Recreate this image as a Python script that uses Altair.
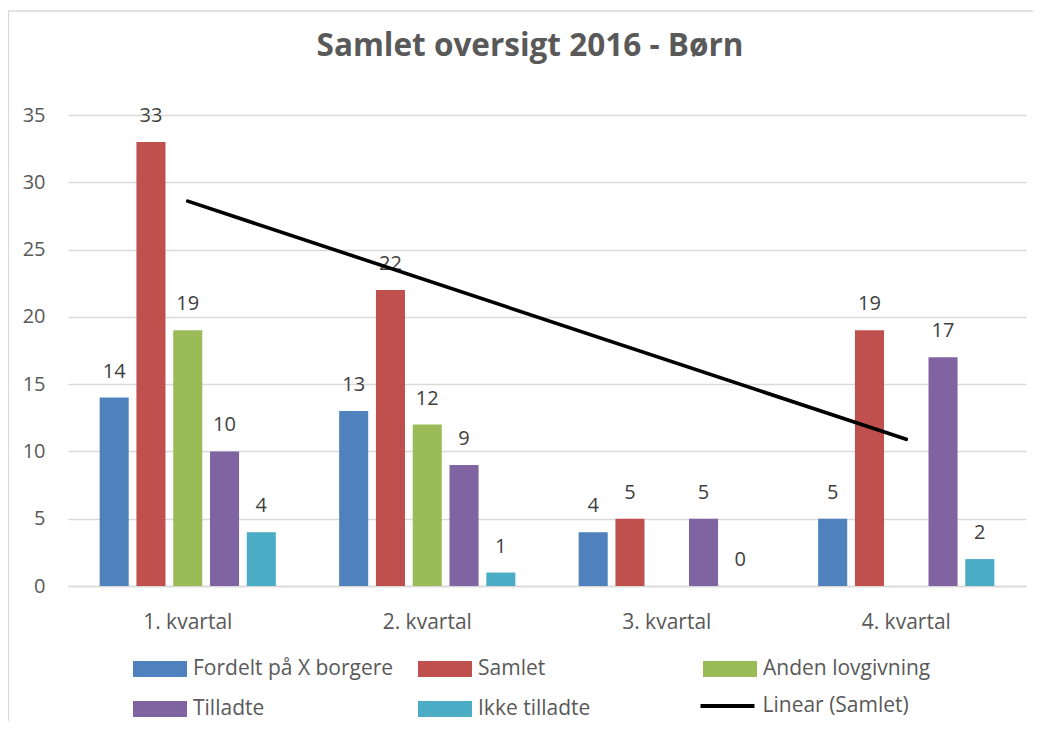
import altair as alt
import pandas as pd

FONT = "Open Sans"

quarters = ["1. kvartal", "2. kvartal", "3. kvartal", "4. kvartal"]
quarter_index = [1, 2, 3, 4]
series_names = ["Fordelt på X borgere", "Samlet", "Anden lovgivning", "Tilladte", "Ikke tilladte"]
fordelt = [14, 13, 4, 5]
samlet = [33, 22, 5, 19]
anden = [19, 12, None, None]
tilladte = [10, 9, 5, 17]
ikke_tilladte = [4, 1, 0, 2]
series_colors = ["#4F81BD", "#C0504D", "#9BBB59", "#8064A2", "#4BACC6"]
trend_label = "Linear (Samlet)"
y_ticks = [0, 5, 10, 15, 20, 25, 30, 35]

rows = []
for name, vals in zip(series_names, [fordelt, samlet, anden, tilladte, ikke_tilladte]):
    for q, qi, v in zip(quarters, quarter_index, vals):
        rows.append({"quarter": q, "qi": qi, "series": name, "value": v})
df = pd.DataFrame(rows)

x_enc = alt.X(
    "quarter:N",
    sort=quarters,
    scale=alt.Scale(domain=quarters, paddingInner=0.232, paddingOuter=0.116),
    axis=alt.Axis(title=None, labelAngle=0, ticks=False, domain=True,
                  domainColor="#D9D9D9", domainWidth=1.3, labelPadding=25,
                  labelFontSize=21),
)
xoff = alt.XOffset(
    "series:N",
    sort=series_names,
    scale=alt.Scale(domain=series_names, paddingInner=0.21, paddingOuter=0.105),
)
y_enc = alt.Y(
    "value:Q",
    scale=alt.Scale(domain=[0, 35], nice=False),
    axis=alt.Axis(title=None, values=y_ticks, ticks=False, domain=False,
                  grid=True, gridColor="#D9D9D9", gridWidth=1.3,
                  labelPadding=23, labelFontSize=20),
)

base = alt.Chart(df)

bars = base.mark_bar().encode(
    x=x_enc,
    xOffset=xoff,
    y=y_enc,
    color=alt.Color(
        "series:N",
        sort=series_names,
        scale=alt.Scale(domain=series_names, range=series_colors),
        legend=alt.Legend(
            title=None, orient="none", legendX=65, legendY=527,
            direction="horizontal", columns=3, gridAlign="all",
            columnPadding=24, rowPadding=3,
            symbolType="M-1,-0.3H1V0.3H-1Z", symbolSize=2916,
            symbolStrokeWidth=0, symbolOpacity=1,
            labelFont=FONT, labelFontSize=21, labelColor="#595959",
            labelOffset=6, labelLimit=400, padding=0,
        ),
    ),
)

labels = base.mark_text(
    dy=-20, baseline="alphabetic", fontSize=20, font=FONT, color="#404040"
).encode(
    x=x_enc,
    xOffset=xoff,
    y=alt.Y("value:Q"),
    text=alt.Text("value:Q", format="d"),
)

trend = base.transform_filter(
    alt.datum.series == "Samlet"
).transform_regression(
    "qi", "value", method="linear", extent=[1, 4]
).transform_calculate(
    label=f"'{trend_label}'"
).mark_line(strokeWidth=3.6, strokeCap="round").encode(
    x=alt.X("qi:Q", scale=alt.Scale(domain=[0.5, 4.5], nice=False, zero=False), axis=None),
    y=alt.Y("value:Q"),
    stroke=alt.Stroke(
        "label:N",
        scale=alt.Scale(domain=[trend_label], range=["#000000"]),
        legend=alt.Legend(
            title=None, orient="none", legendX=630.5, legendY=562,
            symbolType="stroke", symbolSize=2916, symbolStrokeWidth=4,
            labelFont=FONT, labelFontSize=21, labelColor="#595959",
            labelOffset=6, labelLimit=400, padding=0,
        ),
    ),
)

border = alt.Chart(alt.Data(values=[{"a": 1}])).mark_rect(
    fill="transparent", stroke="#D9D9D9", strokeWidth=1.3
).encode(
    x=alt.value(-59.5), x2=alt.value(1100), y=alt.value(-104), y2=alt.value(700)
)

chart = alt.layer(
    border, alt.layer(bars, labels), trend
).resolve_scale(
    x="independent"
).properties(
    width=958,
    height=471,
    autosize=alt.AutoSizeParams(type="none"),
    padding={"left": 60, "top": 107, "right": 7, "bottom": 135},
    title=alt.TitleParams(
        "Samlet oversigt 2016 - Børn", font=FONT, fontSize=31.5, fontWeight="bold",
        color="#595959", anchor="middle", frame="group", dx=-17, offset=-77,
        baseline="alphabetic",
    ),
).configure_view(
    stroke=None
).configure_axis(
    labelFont=FONT, labelColor="#595959"
)

chart.save("out.html", embed_options={"renderer": "svg", "actions": False})
